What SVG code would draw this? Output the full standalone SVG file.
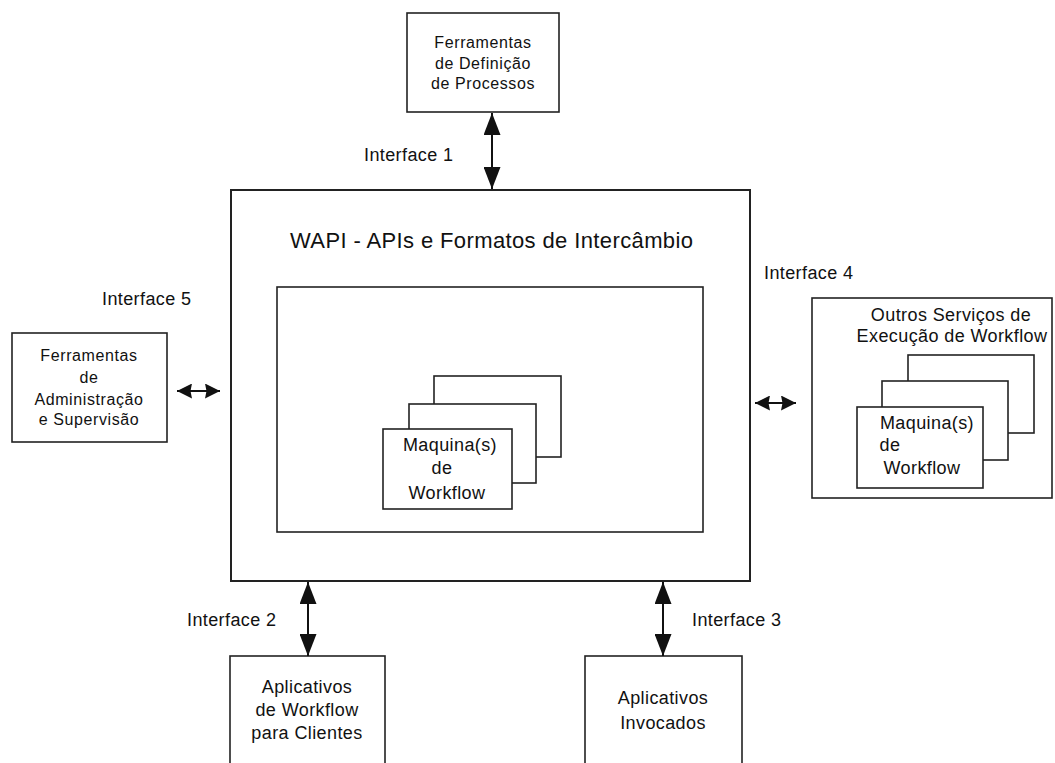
<svg xmlns="http://www.w3.org/2000/svg" width="1055" height="763" viewBox="0 0 1055 763">
  <defs>
    <style>
      .box { fill: #fff; stroke: #222; stroke-width: 2; }
      .thin { fill: #fff; stroke: #222; stroke-width: 1.6; }
      text { font-family: "Liberation Sans", Arial, sans-serif; fill: #111; }
      .lbl { font-size: 18px; letter-spacing: 0.4px; }
      .sm { font-size: 16px; letter-spacing: 0.6px; text-anchor: middle; }
      .mid { font-size: 18px; letter-spacing: 0.4px; text-anchor: middle; }
      .title { font-size: 22px; }
      .link { stroke: #111; stroke-width: 2; fill: none; }
    </style>
    <marker id="headV" markerUnits="userSpaceOnUse" viewBox="0 0 22 17" refX="22" refY="8.5" markerWidth="22" markerHeight="17" orient="auto-start-reverse">
      <path d="M0,0 L22,8.5 L0,17 Z" fill="#111"/>
    </marker>
    <marker id="headH" markerUnits="userSpaceOnUse" viewBox="0 0 15 15" refX="15" refY="7.5" markerWidth="15" markerHeight="15" orient="auto-start-reverse">
      <path d="M0,0 L15,7.5 L0,15 L1.5,7.5 Z" fill="#111"/>
    </marker>
  </defs>

  <!-- central workflow enactment service -->
  <g id="wapi">
    <rect class="box" x="231" y="190" width="519" height="391"/>
    <text class="title" x="290" y="248" textLength="403" lengthAdjust="spacing">WAPI - APIs e Formatos de Intercâmbio</text>
  </g>
  <g id="engine-area">
    <rect class="thin" x="277" y="287" width="426" height="245"/>
  </g>
  <g id="engines">
    <rect class="thin" x="434" y="376" width="127" height="81"/>
    <rect class="thin" x="409" y="404" width="127" height="79"/>
    <rect class="thin" x="383" y="429" width="129" height="80"/>
    <text class="mid" x="450" y="451">Maquina(s)</text>
    <text class="mid" x="442" y="474">de</text>
    <text class="mid" x="447" y="499">Workflow</text>
  </g>

  <!-- surrounding components -->
  <g id="process-definition">
    <rect class="thin" x="407" y="13" width="152" height="99"/>
    <text class="sm" x="483" y="48">Ferramentas</text>
    <text class="sm" x="483" y="69">de Definição</text>
    <text class="sm" x="483" y="89">de Processos</text>
  </g>
  <g id="admin-tools">
    <rect class="thin" x="12" y="333" width="155" height="109"/>
    <text class="sm" x="89" y="361">Ferramentas</text>
    <text class="sm" x="89" y="383">de</text>
    <text class="sm" x="89" y="405">Administração</text>
    <text class="sm" x="89" y="425">e Supervisão</text>
  </g>
  <g id="other-services">
    <rect class="thin" x="812" y="298" width="240" height="200"/>
    <text class="mid" x="951" y="321">Outros Serviços de</text>
    <text class="mid" x="952" y="342">Execução de Workflow</text>
    <rect class="thin" x="908" y="355" width="126" height="78"/>
    <rect class="thin" x="882" y="381" width="126" height="79"/>
    <rect class="thin" x="857" y="407" width="126" height="81"/>
    <text class="mid" x="927" y="429">Maquina(s)</text>
    <text class="mid" x="890" y="451">de</text>
    <text class="mid" x="922" y="474">Workflow</text>
  </g>
  <g id="client-apps">
    <rect class="thin" x="230" y="656" width="155" height="120"/>
    <text class="mid" x="307" y="693">Aplicativos</text>
    <text class="mid" x="307" y="716">de Workflow</text>
    <text class="mid" x="307" y="739">para Clientes</text>
  </g>
  <g id="invoked-apps">
    <rect class="thin" x="585" y="656" width="157" height="120"/>
    <text class="mid" x="663" y="704">Aplicativos</text>
    <text class="mid" x="663" y="729">Invocados</text>
  </g>

  <!-- interfaces -->
  <g id="connectors">
    <line class="link" x1="492" y1="113" x2="492" y2="189" marker-start="url(#headV)" marker-end="url(#headV)"/>
    <line class="link" x1="308" y1="582" x2="308" y2="656" marker-start="url(#headV)" marker-end="url(#headV)"/>
    <line class="link" x1="663" y1="582" x2="663" y2="656" marker-start="url(#headV)" marker-end="url(#headV)"/>
    <line class="link" x1="177" y1="391" x2="220" y2="391" marker-start="url(#headH)" marker-end="url(#headH)"/>
    <line class="link" x1="755" y1="403" x2="796" y2="403" marker-start="url(#headH)" marker-end="url(#headH)"/>
  </g>
  <g id="interface-labels">
    <text class="lbl" x="364" y="161">Interface 1</text>
    <text class="lbl" x="187" y="626">Interface 2</text>
    <text class="lbl" x="692" y="626">Interface 3</text>
    <text class="lbl" x="764" y="279">Interface 4</text>
    <text class="lbl" x="102" y="305">Interface 5</text>
  </g>
</svg>
